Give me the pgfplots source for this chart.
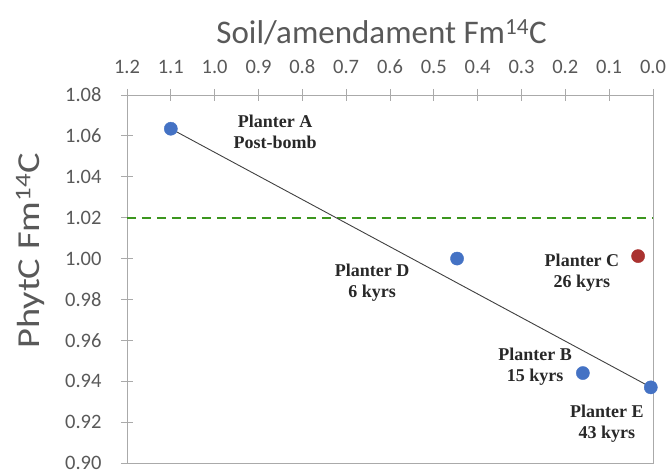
\documentclass[border=0pt]{standalone}
\usepackage{fontspec}
\setmainfont{Carlito}
\newfontfamily\lserif{Liberation Serif}
\usepackage{pgfplots}
\pgfplotsset{compat=1.18}
\definecolor{axgray}{RGB}{170,170,170}
\definecolor{txtgray}{RGB}{89,89,89}
\definecolor{dotblue}{RGB}{68,114,196}
\definecolor{dotred}{RGB}{170,50,48}
\definecolor{dgreen}{RGB}{60,150,30}
\definecolor{lblgray}{RGB}{40,40,40}
\definecolor{trend}{RGB}{64,64,64}
\begin{document}
\begin{tikzpicture}
\path[use as bounding box] (-127pt,-6pt) rectangle (542pt,463pt);
\begin{axis}[
  at={(0pt,0pt)}, anchor=south west, scale only axis,
  width=526pt, height=368pt,
  xmin=0, xmax=1.2, x dir=reverse,
  ymin=0.90, ymax=1.08,
  xtick={0,0.1,0.2,0.3,0.4,0.5,0.6,0.7,0.8,0.9,1.0,1.1,1.2},
  xticklabels={0.0,0.1,0.2,0.3,0.4,0.5,0.6,0.7,0.8,0.9,1.0,1.1,1.2},
  ytick={0.90,0.92,0.94,0.96,0.98,1.00,1.02,1.04,1.06,1.08},
  yticklabels={0.90,0.92,0.94,0.96,0.98,1.00,1.02,1.04,1.06,1.08},
  xtick pos=right, xticklabel pos=right,
  ytick pos=left,
  tick align=center, major tick length=12pt,
  axis line style={axgray, line width=0.8pt},
  tick style={axgray, line width=0.8pt},
  ticklabel style={font=\fontsize{20.5}{24}\selectfont, text=txtgray},
  xticklabel style={yshift=12pt},
  yticklabel style={xshift=-16pt},
  xlabel={Soil/amendament Fm\textsuperscript{14}C},
  ylabel={\scalebox{1.2}[1]{PhytC Fm\textsuperscript{14}C}},
  xlabel style={at={(axis description cs:0.484,1.171)}, anchor=center, font=\fontsize{33}{38}\selectfont, text=txtgray},
  ylabel style={at={(axis description cs:-0.184,0.576)}, anchor=center, rotate=0, font=\fontsize{32}{36}\selectfont, text=txtgray},
  clip=false,
]
\addplot[dgreen, line width=2.2pt, dash pattern=on 9pt off 6pt] coordinates {(1.2,1.02) (0,1.02)};
\addplot[trend, line width=0.9pt] coordinates {(1.10,1.0635) (0.0,0.9365)};
\addplot[only marks, mark=*, mark size=6.6pt, mark options={fill=dotblue, draw=dotblue}] coordinates {
  (1.10,1.0635) (0.447,1.000) (0.160,0.944) (0.005,0.937)};
\addplot[only marks, mark=*, mark size=6.6pt, mark options={fill=dotred, draw=dotred}] coordinates {
  (0.034,1.0012)};
\begin{scope}[every node/.style={font=\lserif\bfseries\fontsize{18}{21}\selectfont, text=lblgray, align=center}]
\node at (axis cs:0.862,1.062) {Planter A\\Post-bomb};
\node at (axis cs:0.641,0.988) {Planter D\\6 kyrs};
\node at (axis cs:0.162,0.993) {Planter C\\26 kyrs};
\node at (axis cs:0.269,0.947) {Planter B\\15 kyrs};
\node at (axis cs:0.105,0.919) {Planter E\\43 kyrs};
\end{scope}
\end{axis}
\end{tikzpicture}
\end{document}
